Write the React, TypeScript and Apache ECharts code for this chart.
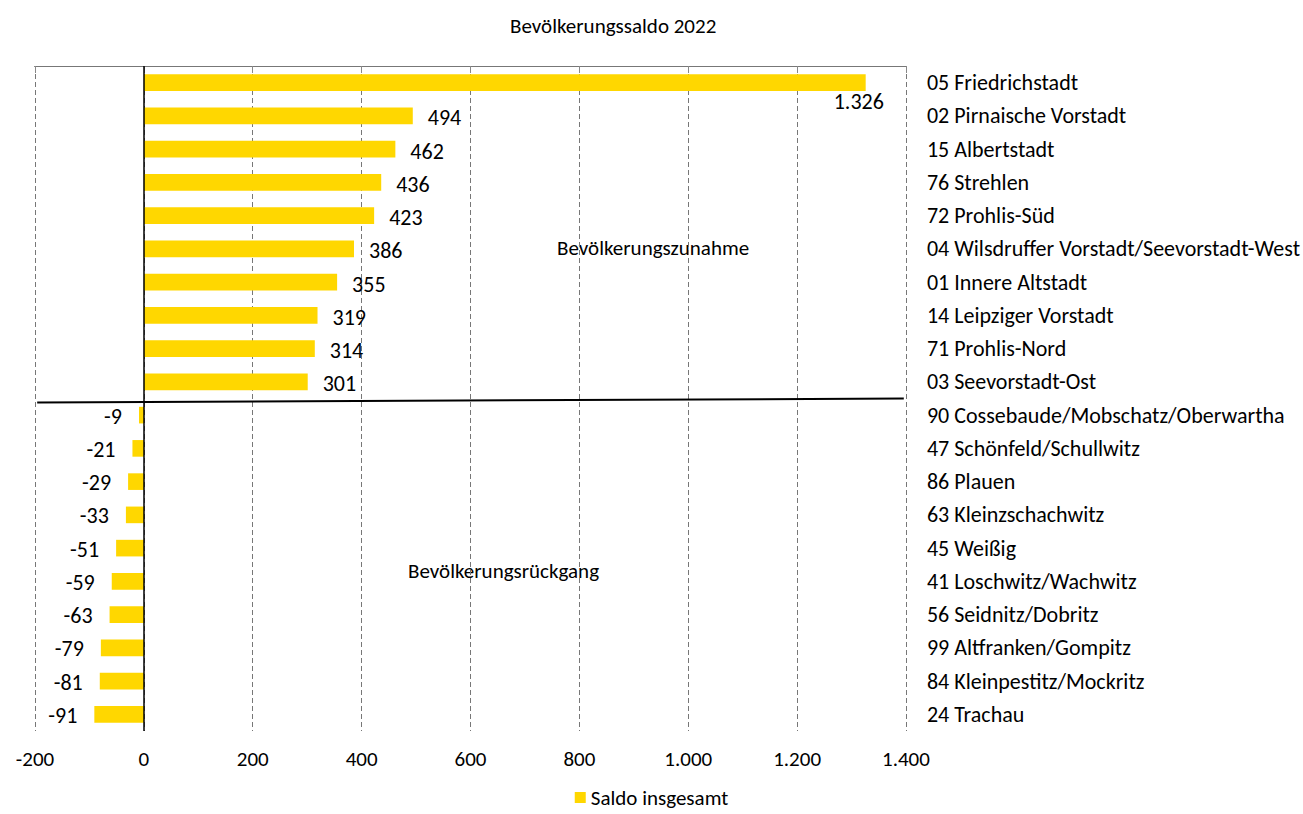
import React, { useEffect, useRef } from "react";
import * as echarts from "echarts";

const categories = [
  "05 Friedrichstadt",
  "02 Pirnaische Vorstadt",
  "15 Albertstadt",
  "76 Strehlen",
  "72 Prohlis-Süd",
  "04 Wilsdruffer Vorstadt/Seevorstadt-West",
  "01 Innere Altstadt",
  "14 Leipziger Vorstadt",
  "71 Prohlis-Nord",
  "03 Seevorstadt-Ost",
  "90 Cossebaude/Mobschatz/Oberwartha",
  "47 Schönfeld/Schullwitz",
  "86 Plauen",
  "63 Kleinzschachwitz",
  "45 Weißig",
  "41 Loschwitz/Wachwitz",
  "56 Seidnitz/Dobritz",
  "99 Altfranken/Gompitz",
  "84 Kleinpestitz/Mockritz",
  "24 Trachau",
];

const saldo = [1326, 494, 462, 436, 423, 386, 355, 319, 314, 301, -9, -21, -29, -33, -51, -59, -63, -79, -81, -91];

const seriesName = "Saldo insgesamt";
const titleText = "Bevölkerungssaldo 2022";
const xMin = -200;
const xMax = 1400;
const xStep = 200;

// separator line between gain and loss districts (annotation), in axis units
const separatorX = [-196, 1396];
const separatorY = [10.12, 10.0];

const fmt = (v: number) => {
  const s = Math.abs(Math.round(v)).toString().replace(/\B(?=(\d{3})+(?!\d))/g, ".");
  return (v < 0 ? "-" : "") + s;
};

const FONT = "Carlito, Lato, 'Open Sans', sans-serif";

export default function App() {
  const ref = useRef<HTMLDivElement>(null);
  useEffect(() => {
    document.body.style.margin = "0";
    const chart = echarts.init(ref.current!, undefined, { renderer: "svg" });
    const barData = saldo.map((v, i) => {
      if (i === 0) {
        return {
          value: v,
          label: { position: "right", distance: 0, offset: [-32, 19] },
        };
      }
      if (v < 0) {
        return { value: v, label: { position: "left", distance: 17, offset: [0, 1] } };
      }
      return { value: v, label: { position: "right", distance: 15, offset: [0, 2] } };
    });
    chart.setOption({
      animation: false,
      textStyle: { fontFamily: FONT },
      title: {
        text: titleText,
        left: 505,
        top: 10,
        textStyle: { fontSize: 21, fontWeight: "normal", color: "#000", fontFamily: FONT },
      },
      legend: {
        bottom: 1,
        left: "center",
        icon: "rect",
        itemWidth: 11,
        itemHeight: 11,
        itemGap: 5,
        data: [seriesName],
        textStyle: { fontSize: 21, color: "#000", fontFamily: FONT },
      },
      grid: { left: 35, right: 396, top: 66, bottom: 83, containLabel: false },
      xAxis: [
        {
          type: "value",
          min: xMin,
          max: xMax,
          interval: xStep,
          position: "bottom",
          axisLine: { show: true, lineStyle: { color: "#000", width: 1 } },
          axisTick: { show: true, length: 7, lineStyle: { color: "#888" } },
          axisLabel: { fontSize: 21, color: "#000", margin: 17, formatter: (v: number) => fmt(v), fontFamily: FONT },
          splitLine: { show: true, lineStyle: { color: "#777", type: [5, 3], width: 1 } },
        },
        {
          type: "value",
          min: xMin,
          max: xMax,
          interval: xStep,
          position: "top",
          axisLine: { show: true, lineStyle: { color: "#777", width: 1 } },
          axisTick: { show: false },
          axisLabel: { show: false },
          splitLine: { show: false },
        },
      ],
      yAxis: [
        {
          type: "category",
          data: categories,
          inverse: true,
          position: "right",
          axisLine: { show: false, onZero: false },
          axisTick: { show: false },
          axisLabel: { fontSize: 22, color: "#000", margin: 21, align: "left", fontFamily: FONT },
          splitLine: { show: false },
        },
        {
          type: "value",
          min: 0,
          max: 20,
          inverse: true,
          show: false,
        },
      ],
      series: [
        {
          name: seriesName,
          type: "bar",
          xAxisIndex: 0,
          yAxisIndex: 0,
          data: barData,
          barWidth: "50%",
          itemStyle: { color: "#FFD700" },
          label: {
            show: true,
            fontSize: 22,
            color: "#000",
            fontFamily: FONT,
            formatter: (p: any) => fmt(p.value),
          },
          markLine: {
            silent: true,
            symbol: "none",
            label: { show: false },
            lineStyle: { color: "#000", type: "solid", width: 1.5 },
            data: [{ xAxis: 0 }],
          },
        },
        {
          name: "sep",
          type: "line",
          xAxisIndex: 0,
          yAxisIndex: 1,
          data: [
            [separatorX[0], separatorY[0]],
            [separatorX[1], separatorY[1]],
          ],
          symbol: "none",
          silent: true,
          lineStyle: { color: "#000", width: 2 },
        },
      ],
      graphic: [
        {
          type: "text",
          left: 557,
          top: 237,
          style: { text: "Bevölkerungszunahme", fontSize: 21, fill: "#000", fontFamily: FONT },
        },
        {
          type: "text",
          left: 408,
          top: 560,
          style: { text: "Bevölkerungsrückgang", fontSize: 21, fill: "#000", fontFamily: FONT },
        },
      ],
    });
    return () => chart.dispose();
  }, []);
  return <div ref={ref} style={{ width: 1303, height: 814 }} />;
}
